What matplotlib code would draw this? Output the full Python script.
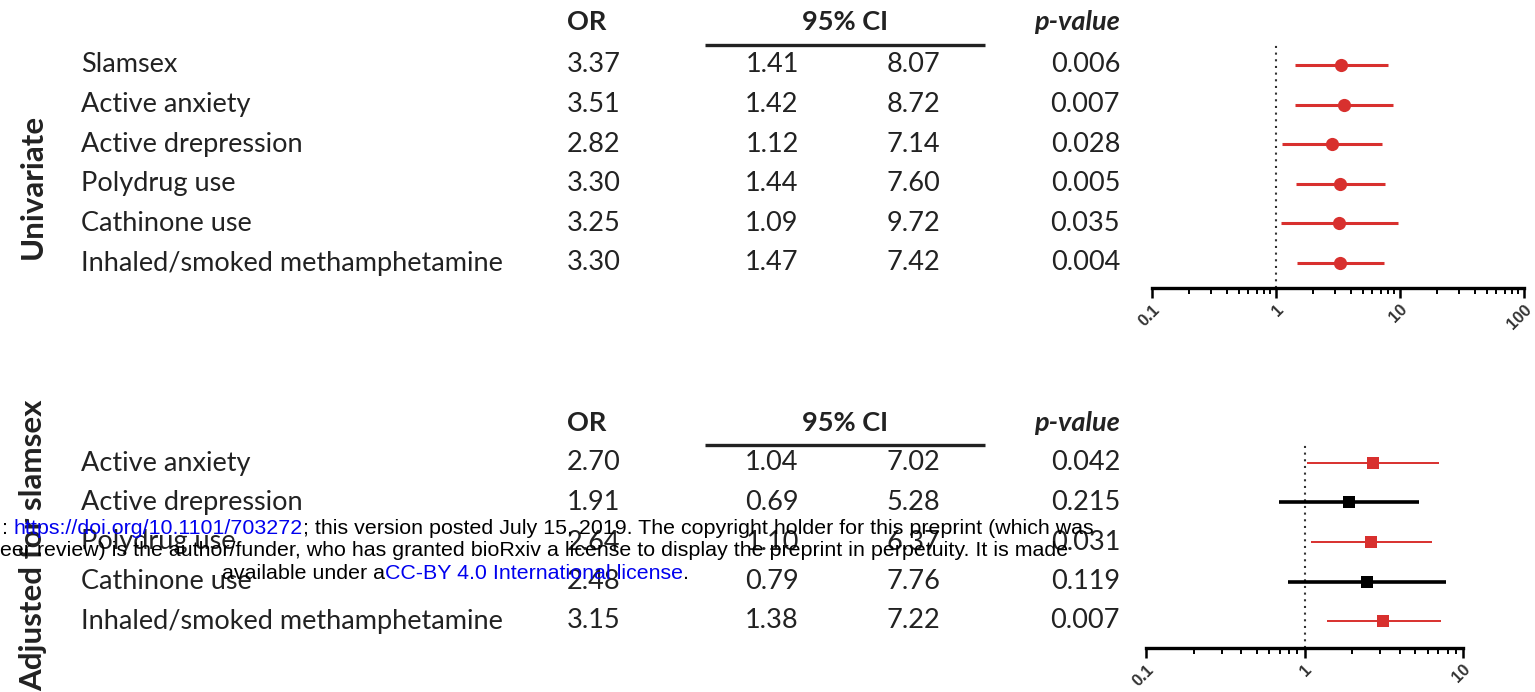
import matplotlib
matplotlib.use("Agg")
import matplotlib.pyplot as plt
import numpy as np

# ---- data -------------------------------------------------------------
uni_labels = ["Slamsex", "Active anxiety", "Active drepression", "Polydrug use",
              "Cathinone use", "Inhaled/smoked methamphetamine"]
uni_or = [3.37, 3.51, 2.82, 3.30, 3.25, 3.30]
uni_lo = [1.41, 1.42, 1.12, 1.44, 1.09, 1.47]
uni_hi = [8.07, 8.72, 7.14, 7.60, 9.72, 7.42]
uni_p = [0.006, 0.007, 0.028, 0.005, 0.035, 0.004]

adj_labels = ["Active anxiety", "Active drepression", "Polydrug use",
              "Cathinone use", "Inhaled/smoked methamphetamine"]
adj_or = [2.70, 1.91, 2.64, 2.48, 3.15]
adj_lo = [1.04, 0.69, 1.10, 0.79, 1.38]
adj_hi = [7.02, 5.28, 6.37, 7.76, 7.22]
adj_p = [0.042, 0.215, 0.031, 0.119, 0.007]

uni_ticks = [0.1, 1, 10, 100]
uni_ticklabels = ["0.1", "1", "10", "100"]
adj_ticks = [0.1, 1, 10]
adj_ticklabels = ["0.1", "1", "10"]

# ---- figure -----------------------------------------------------------
W, H = 1535, 692
fig = plt.figure(figsize=(W / 100, H / 100), dpi=100)
fig.patch.set_facecolor("white")

RED = "#d8302e"
TXT = "#222222"
TFONT = "Lato"
FS = 19.5


def frac_box(left, top, right, bottom):
    return [left / W, (H - bottom) / H, (right - left) / W, (bottom - top) / H]


# overlay in pixel coordinates for the table text
over = fig.add_axes([0, 0, 1, 1])
over.set_xlim(0, W)
over.set_ylim(H, 0)
over.axis("off")
over.set_zorder(5)


def draw_table(header_y, line_y, first_y, step, labels, ors, los, his, ps):
    over.text(567, header_y, "OR", fontsize=FS, fontweight="bold", family=TFONT,
              color=TXT, va="center", ha="left")
    over.text(845, header_y, "95% CI", fontsize=FS, fontweight="bold", family=TFONT,
              color=TXT, va="center", ha="center")
    over.text(1120, header_y, "p-value", fontsize=FS, fontweight="bold",
              fontstyle="italic", family=TFONT, color=TXT, va="center", ha="right")
    over.plot([705, 985], [line_y, line_y], color=TXT, lw=2.4,
              solid_capstyle="butt")
    for i, (lab, o, lo, hi, p) in enumerate(zip(labels, ors, los, his, ps)):
        y = first_y + i * step
        kw = dict(fontsize=FS, family=TFONT, color=TXT, va="center")
        over.text(81, y, lab, ha="left", **kw)
        over.text(567, y, f"{o:.2f}", ha="left", **kw)
        over.text(772, y, f"{lo:.2f}", ha="center", **kw)
        over.text(913, y, f"{hi:.2f}", ha="center", **kw)
        over.text(1120, y, f"{p:.3f}", ha="right", **kw)


draw_table(22, 45, 65, 39.6, uni_labels, uni_or, uni_lo, uni_hi, uni_p)
draw_table(423, 445, 463, 39.5, adj_labels, adj_or, adj_lo, adj_hi, adj_p)

over.text(33, 186, "Univariate", rotation=90, fontsize=22.5, fontweight="bold",
          family=TFONT, color=TXT, ha="center", va="center")
over.text(33, 545, "Adjusted for slamsex", rotation=90, fontsize=22.5,
          fontweight="bold", family=TFONT, color=TXT, ha="center", va="center")


def forest(box, ors, los, his, ps, ylim, ticks, ticklabels, marker, msize, thin):
    ax = fig.add_axes(frac_box(*box))
    n = len(ors)
    ys = np.arange(n)
    ax.set_xscale("log")
    ax.set_xlim(ticks[0], ticks[-1])
    ax.set_ylim(*ylim)
    ax.axvline(1, color="#333333", lw=1.5, ls=(0, (1, 2.2)), zorder=1)
    for y, o, lo, hi, p in zip(ys, ors, los, his, ps):
        col = RED if p < 0.05 else "black"
        lw = (1.4 if p < 0.05 else 2.6) if thin else 2.2
        ax.errorbar([o], [y], xerr=[[o - lo], [hi - o]], fmt=marker, color=col,
                    ecolor=col, elinewidth=lw, capsize=5, capthick=lw,
                    markersize=msize, markeredgewidth=0, zorder=3)
    for s in ["top", "right", "left"]:
        ax.spines[s].set_visible(False)
    ax.spines["bottom"].set_linewidth(2.4)
    ax.set_yticks([])
    ax.set_xticks(ticks)
    ax.set_xticklabels(ticklabels, rotation=45, ha="right", rotation_mode="anchor",
                       fontsize=12, fontweight="bold", family="Liberation Sans",
                       color="#333333")
    ax.tick_params(axis="x", which="major", length=7, width=1.8, direction="out",
                   pad=3)
    ax.tick_params(axis="x", which="minor", length=4, width=1.4, direction="out")
    ax.patch.set_alpha(0)
    return ax


forest((1152, 43, 1524, 288), uni_or, uni_lo, uni_hi, uni_p,
       (5.63, -0.556), uni_ticks, uni_ticklabels, "o", 9.5, False)
forest((1146, 442, 1463, 648), adj_or, adj_lo, adj_hi, adj_p,
       (4.68, -0.53), adj_ticks, adj_ticklabels, "s", 8.5, True)

# ---- preprint notice overlaid on the figure ---------------------------
note = fig.add_axes([0, 0, 1, 1])
note.set_xlim(0, W)
note.set_ylim(H, 0)
note.axis("off")
note.set_zorder(10)
NFONT = dict(fontsize=15.4, family="Liberation Sans")
BLUE = "#0000ee"


def chain(x, y, parts):
    prev = None
    for txt, col in parts:
        if prev is None:
            prev = note.text(x, y, txt, color=col, ha="left", va="baseline", **NFONT)
        else:
            prev = note.annotate(txt, xy=(1, 0), xycoords=prev, color=col,
                                 ha="left", va="bottom", **NFONT)


chain(2, 534, [(": ", "black"), ("https://doi.org/10.1101/703272", BLUE),
               ("; this version posted July 15, 2019. The copyright holder for this "
                "preprint (which was", "black")])
chain(0, 556, [("eer review) is the author/funder, who has granted bioRxiv a license "
                "to display the preprint in perpetuity. It is made", "black")])
chain(222, 579, [("available under a", "black"),
                 ("CC-BY 4.0 International license", BLUE), (".", "black")])

fig.savefig("out.png", dpi=100, facecolor="white")
